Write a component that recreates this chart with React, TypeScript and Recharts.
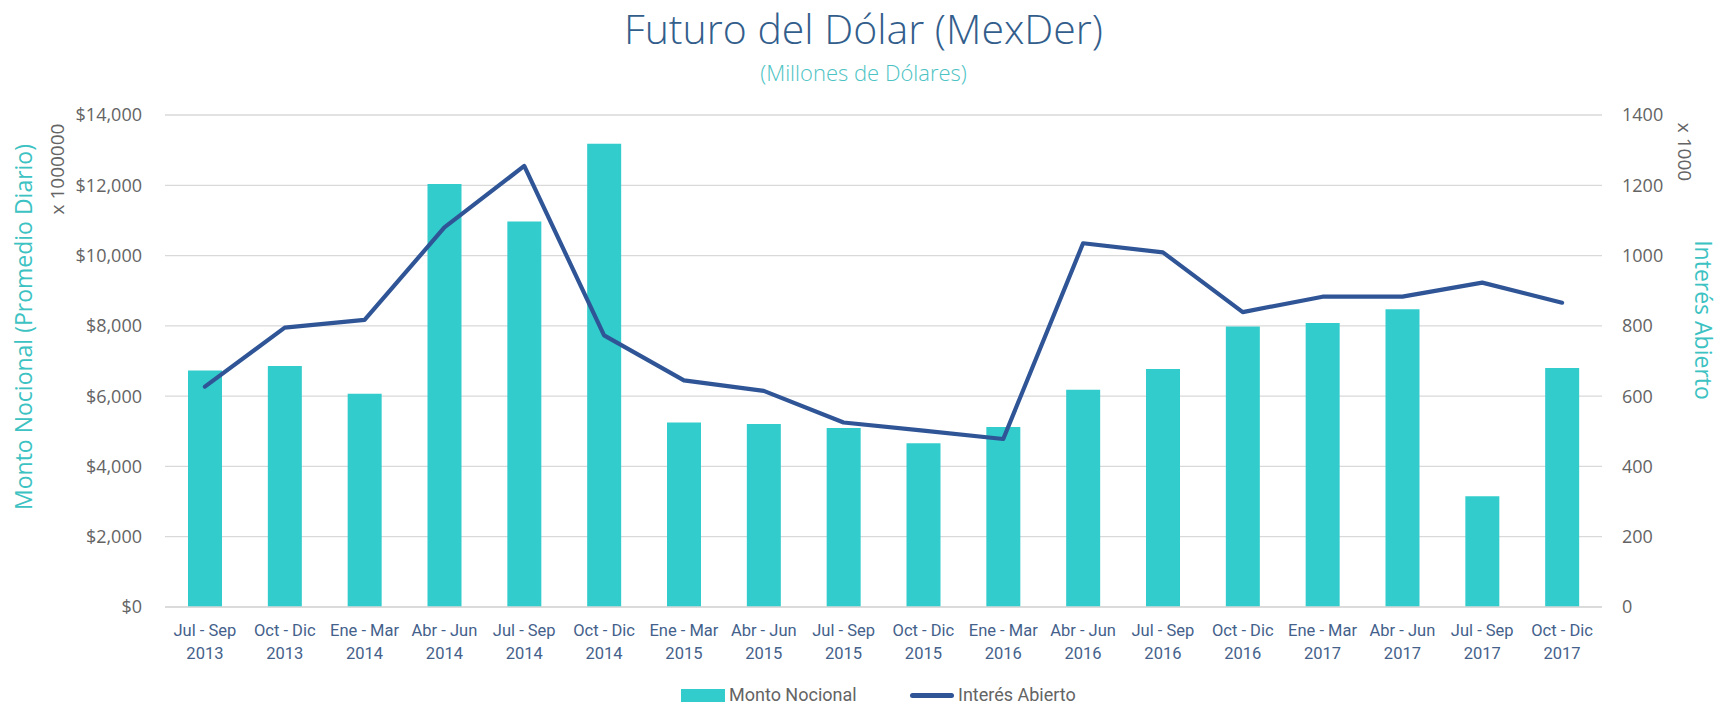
import React from "react";
import {
  Bar,
  CartesianGrid,
  ComposedChart,
  Line,
  XAxis,
  YAxis,
} from "recharts";

const periods = [
  "Jul - Sep", "Oct - Dic", "Ene - Mar", "Abr - Jun", "Jul - Sep", "Oct - Dic",
  "Ene - Mar", "Abr - Jun", "Jul - Sep", "Oct - Dic", "Ene - Mar", "Abr - Jun",
  "Jul - Sep", "Oct - Dic", "Ene - Mar", "Abr - Jun", "Jul - Sep", "Oct - Dic",
];
const years = [
  "2013", "2013", "2014", "2014", "2014", "2014", "2015", "2015", "2015",
  "2015", "2016", "2016", "2016", "2016", "2017", "2017", "2017", "2017",
];

// Monto Nocional (promedio diario, x 1000000)
const montoNocional = [
  6730, 6860, 6070, 12040, 10970, 13180, 5250, 5210, 5090, 4660, 5120, 6180,
  6770, 7980, 8080, 8470, 3150, 6800,
];
// Interés Abierto (x 1000)
const interesAbierto = [
  627, 795, 817, 1080, 1255, 773, 645, 615, 525, 502, 478, 1035, 1009, 839,
  883, 883, 923, 866,
];

const leftTicks = [0, 2000, 4000, 6000, 8000, 10000, 12000, 14000];
const rightTicks = [0, 200, 400, 600, 800, 1000, 1200, 1400];

const data = periods.map((p, i) => ({
  label: `${p}|${years[i]}`,
  monto: montoNocional[i],
  interes: interesAbierto[i],
}));

const TEAL = "#33cccc";
const NAVY = "#2f5597";
const GRAY = "#646464";
const FONT = "'Open Sans', sans-serif";

function PeriodTick(props: any) {
  const { x, y, payload } = props;
  const [top, bottom] = String(payload.value).split("|");
  return (
    <text
      x={x}
      y={y}
      textAnchor="middle"
      fill="#44618b"
      fontFamily="Roboto, sans-serif"
      fontSize={16.5}
    >
      <tspan x={x} y={y + 27}>{top}</tspan>
      <tspan x={x} y={y + 50}>{bottom}</tspan>
    </text>
  );
}

function RotatedLabel({
  text,
  cx,
  cy,
  angle,
  color,
  size,
}: {
  text: string;
  cx: number;
  cy: number;
  angle: number;
  color: string;
  size: number;
}) {
  return (
    <div
      style={{
        position: "absolute",
        left: cx,
        top: cy,
        transform: `translate(-50%, -50%) rotate(${angle}deg)`,
        whiteSpace: "nowrap",
        fontFamily: FONT,
        fontSize: size,
        color,
        lineHeight: 1,
      }}
    >
      {text}
    </div>
  );
}

export default function App() {
  return (
    <div
      style={{
        position: "absolute",
        left: 0,
        top: 0,
        width: 1727,
        height: 706,
        background: "#fff",
        fontFamily: FONT,
      }}
    >
      <div
        style={{
          position: "absolute",
          top: 28,
          left: 0,
          width: 1727,
          transform: "translateY(-50%)",
          textAlign: "center",
          fontSize: 41,
          fontWeight: 300,
          color: "#335e8c",
          lineHeight: 1,
        }}
      >
        Futuro del Dólar (MexDer)
      </div>
      <div
        style={{
          position: "absolute",
          top: 72,
          left: 0,
          width: 1727,
          transform: "translateY(-50%)",
          textAlign: "center",
          fontSize: 22,
          fontWeight: 300,
          color: "#4cc3c3",
          lineHeight: 1,
        }}
      >
        (Millones de Dólares)
      </div>

      <ComposedChart
        width={1727}
        height={706}
        data={data}
        margin={{ top: 115, right: 0, bottom: 0, left: 0 }}
      >
        <CartesianGrid
          yAxisId="left"
          vertical={false}
          stroke="#d9d9d9"
          strokeWidth={1.3}
        />
        <XAxis
          dataKey="label"
          height={99}
          interval={0}
          tickLine={false}
          tickSize={0}
          axisLine={{ stroke: "#d9d9d9", strokeWidth: 1.3 }}
          tick={<PeriodTick />}
        />
        <YAxis
          yAxisId="left"
          orientation="left"
          width={165}
          domain={[0, 14000]}
          ticks={leftTicks}
          tickFormatter={(v: number) => `$${v.toLocaleString("en-US")}`}
          axisLine={false}
          tickLine={false}
          tickSize={0}
          tickMargin={23}
          tick={{ fill: GRAY, fontSize: 18, fontFamily: FONT }}
        />
        <YAxis
          yAxisId="right"
          orientation="right"
          width={125}
          domain={[0, 1400]}
          ticks={rightTicks}
          axisLine={false}
          tickLine={false}
          tickSize={0}
          tickMargin={20}
          tick={{ fill: GRAY, fontSize: 18, fontFamily: FONT }}
        />
        <Bar
          yAxisId="left"
          dataKey="monto"
          name="Monto Nocional"
          fill={TEAL}
          barSize={34}
          isAnimationActive={false}
        />
        <Line
          yAxisId="right"
          type="linear"
          dataKey="interes"
          name="Interés Abierto"
          stroke={NAVY}
          strokeWidth={4.2}
          strokeLinejoin="round"
          strokeLinecap="round"
          dot={false}
          activeDot={false}
          isAnimationActive={false}
        />
      </ComposedChart>

      <RotatedLabel
        text="Monto Nocional (Promedio Diario)"
        cx={23}
        cy={327}
        angle={-90}
        color="#3cc2c2"
        size={23}
      />
      <RotatedLabel text="x 1000000" cx={57} cy={169} angle={-90} color={GRAY} size={19} />
      <RotatedLabel text="x 1000" cx={1684} cy={152} angle={90} color={GRAY} size={19} />
      <RotatedLabel
        text="Interés Abierto"
        cx={1703}
        cy={320}
        angle={90}
        color="#3cc2c2"
        size={23}
      />

      {/* legend */}
      <div
        style={{
          position: "absolute",
          top: 695,
          left: 681,
          transform: "translateY(-50%)",
          display: "flex",
          alignItems: "center",
          fontFamily: "Roboto, sans-serif",
          fontSize: 18,
          color: GRAY,
          lineHeight: 1,
          whiteSpace: "nowrap",
        }}
      >
        <span style={{ width: 44, height: 13, background: TEAL, display: "inline-block" }} />
        <span style={{ marginLeft: 4, width: 181 }}>Monto Nocional</span>
        <span
          style={{
            width: 44,
            height: 5,
            background: NAVY,
            borderRadius: 3,
            display: "inline-block",
          }}
        />
        <span style={{ marginLeft: 4 }}>Interés Abierto</span>
      </div>
    </div>
  );
}
